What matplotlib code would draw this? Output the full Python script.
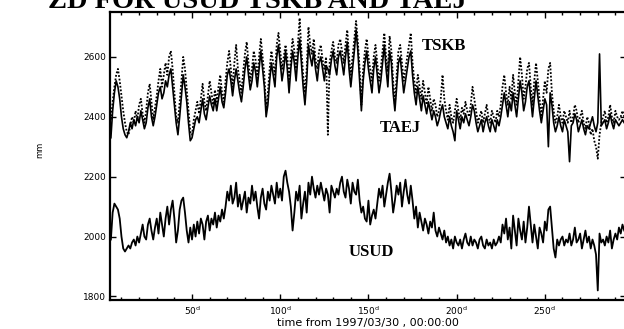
import numpy as np
import matplotlib
matplotlib.use("Agg")
import matplotlib.pyplot as plt
from matplotlib.ticker import MultipleLocator, FixedLocator

# day numbers (daily samples)
days = list(range(4, 296))

tskb = [
    2390, 2450, 2500, 2540, 2560, 2520, 2470, 2420, 2380, 2350,
    2340, 2370, 2400, 2380, 2420, 2390, 2440, 2460, 2410, 2380,
    2420, 2480, 2510, 2450, 2390, 2430, 2470, 2520, 2560, 2500,
    2540, 2580, 2540, 2600, 2620, 2560, 2480, 2400, 2380, 2450,
    2520, 2600, 2560, 2490, 2420, 2350, 2340, 2390, 2420, 2450,
    2410, 2460, 2510, 2450, 2420, 2470, 2520, 2480, 2440, 2490,
    2450, 2500, 2540, 2480, 2450, 2520, 2580, 2620, 2560, 2500,
    2580, 2640, 2560, 2520, 2480, 2550, 2610, 2650, 2580, 2520,
    2560, 2620, 2590, 2530, 2600, 2660, 2600, 2540, 2420, 2480,
    2560, 2620, 2580, 2540, 2640, 2680, 2620, 2560, 2600, 2640,
    2600, 2520, 2600, 2660, 2620, 2560, 2640, 2730, 2620, 2540,
    2480, 2560, 2700, 2640, 2610, 2660, 2590, 2560, 2620, 2640,
    2590, 2560, 2600, 2340, 2580, 2620, 2650, 2600, 2580, 2640,
    2660, 2620, 2580, 2640, 2690, 2600, 2540, 2600, 2660, 2720,
    2650, 2560, 2440, 2560, 2620, 2660, 2600, 2560, 2520, 2600,
    2640, 2580, 2520, 2560, 2620, 2680, 2600, 2550, 2670, 2620,
    2520, 2440, 2540, 2620, 2640, 2580, 2520, 2560, 2600, 2640,
    2680, 2580, 2520, 2480, 2540, 2500, 2460, 2520, 2480, 2440,
    2500, 2460, 2420, 2460, 2440, 2400, 2420, 2460, 2540, 2460,
    2420, 2390, 2440, 2400, 2380, 2420, 2460, 2420, 2390, 2430,
    2410, 2450, 2420, 2400, 2440, 2500, 2460, 2420, 2380, 2400,
    2420, 2380, 2410, 2440, 2400, 2380, 2420, 2400, 2380, 2420,
    2400, 2440, 2500, 2540, 2480, 2440, 2500, 2460, 2540, 2480,
    2440, 2520, 2600, 2540, 2460, 2500, 2560, 2580, 2500, 2440,
    2520, 2580, 2520, 2460, 2400, 2460, 2520, 2480, 2560, 2580,
    2480, 2420, 2380, 2400, 2440, 2400, 2380, 2420, 2400, 2380,
    2420, 2380, 2400, 2440, 2420, 2380, 2400, 2420, 2380, 2360,
    2400, 2380, 2340, 2360, 2320, 2300, 2260, 2340, 2380, 2400,
    2420, 2380, 2400, 2440, 2400, 2380, 2420, 2400, 2390, 2400,
    2420, 2400,
]

taej = [
    2330, 2420, 2480, 2520, 2500, 2460, 2400, 2360, 2340, 2330,
    2350, 2380, 2360, 2390, 2370, 2400, 2380, 2420, 2390, 2360,
    2380, 2430, 2460, 2400, 2370, 2400, 2440, 2480, 2500, 2460,
    2480, 2520, 2500, 2540, 2560, 2500, 2440, 2380, 2340, 2400,
    2470, 2540, 2500, 2450, 2380, 2320, 2330, 2360, 2390, 2400,
    2380, 2420, 2460, 2410, 2390, 2430, 2470, 2440, 2420, 2460,
    2420, 2460, 2500, 2450, 2430, 2480, 2540, 2560, 2520, 2470,
    2520, 2560, 2520, 2480, 2450, 2500, 2560, 2600, 2540, 2490,
    2520, 2580, 2550, 2500, 2560, 2620, 2560, 2500, 2400, 2440,
    2520, 2580, 2540, 2500, 2600, 2640, 2580, 2520, 2560, 2620,
    2560, 2480, 2560, 2620, 2580, 2520, 2600, 2660, 2580, 2500,
    2440, 2520, 2640, 2600, 2570, 2620, 2560, 2520, 2580, 2600,
    2560, 2520, 2570, 2560, 2540, 2590, 2620, 2570, 2540, 2600,
    2620, 2580, 2540, 2600, 2650, 2560, 2500, 2560, 2620, 2690,
    2620, 2520, 2420, 2520, 2580, 2620, 2560, 2520, 2480, 2560,
    2600, 2540, 2480, 2520, 2580, 2640, 2560, 2500, 2620, 2580,
    2480, 2420, 2500, 2580, 2600, 2540, 2480, 2520, 2560, 2600,
    2620, 2540, 2480, 2440, 2500, 2460, 2420, 2470, 2440, 2410,
    2450, 2420, 2390, 2420, 2400, 2370, 2390, 2420, 2440, 2400,
    2380, 2360, 2400, 2370, 2350, 2320, 2420, 2390, 2360, 2400,
    2380, 2410, 2390, 2370, 2400, 2440, 2420, 2380, 2350, 2370,
    2390, 2350, 2380, 2400, 2370, 2350, 2390, 2370, 2350, 2390,
    2370, 2400, 2440, 2480, 2440, 2400, 2450, 2420, 2480, 2440,
    2400, 2460, 2520, 2480, 2420, 2450, 2500, 2520, 2460, 2400,
    2460, 2520, 2470, 2420, 2380, 2420, 2460, 2440, 2300, 2480,
    2440, 2380, 2350, 2370, 2400, 2370, 2350, 2390, 2370, 2350,
    2250, 2370, 2380, 2410, 2390, 2350, 2370, 2390, 2360, 2340,
    2370, 2360, 2380, 2400, 2370, 2350, 2380, 2610, 2370, 2380,
    2390, 2360, 2380, 2410, 2380, 2360, 2390, 2380, 2370, 2380,
    2390, 2380,
]

usud = [
    1990, 2080, 2110, 2100, 2090, 2060, 2000, 1960, 1950, 1960,
    1970, 1960, 1980, 1990, 1970, 2000, 1980, 2010, 2040, 2000,
    1990, 2040, 2060, 2020, 1990, 2030, 2060, 2010, 2080, 2040,
    2000, 2060, 2100, 2040, 2090, 2120, 2060, 1980, 2020, 2090,
    2120, 2130, 2080, 2020, 1980, 2030, 1990, 2040, 2000, 2050,
    2010, 2060, 2040, 1990, 2050, 2070, 2020, 2060, 2040, 2080,
    2030, 2070, 2050, 2090, 2060, 2100, 2150, 2120, 2170, 2110,
    2130, 2180, 2100, 2140, 2090, 2120, 2150, 2080, 2130, 2110,
    2170, 2120, 2150, 2100, 2060, 2130, 2160, 2110, 2090, 2150,
    2120, 2170, 2140, 2110, 2180, 2130, 2160, 2120, 2200, 2220,
    2180, 2150, 2100, 2020, 2080, 2150, 2120, 2170, 2060, 2110,
    2150, 2080, 2180, 2140, 2200, 2160, 2130, 2170, 2140, 2180,
    2150, 2120, 2160, 2140, 2080, 2170, 2150, 2130, 2160, 2140,
    2180, 2200, 2150, 2130, 2190, 2160, 2110, 2180, 2150, 2140,
    2190, 2120, 2080, 2100, 2060, 2050, 2120, 2040, 2070, 2090,
    2060, 2110, 2160, 2130, 2170, 2100, 2140, 2180, 2210, 2150,
    2080, 2120, 2170, 2140, 2180, 2100, 2150, 2190, 2140, 2110,
    2170, 2120, 2060, 2100, 2030, 2080, 2050, 2020, 2060, 2040,
    2010, 2050, 2030, 2080, 2020, 2000, 2030, 2010, 1990, 2020,
    1980, 2000, 1970, 1990, 1960, 2000, 1980, 1970, 1990, 1960,
    1990, 2010, 1980, 1970, 2000, 1970, 1990, 1980, 1960, 1990,
    2000, 1970, 1960, 1990, 1970, 1980, 1960, 1990, 1970, 1980,
    2000, 1980, 2040, 2010, 2060, 1990, 2030, 1960, 2070, 2020,
    1970, 2060, 2020, 1990, 2050, 1980, 2030, 2100, 2040, 1980,
    2040, 2000, 1960, 2030, 2010, 1980, 2050, 2020, 2090, 2100,
    2030, 1960, 1930, 1990, 1970, 1990, 2000, 1970, 1990, 1980,
    2010, 1970, 1990, 2030, 1980, 1990, 2010, 1960, 1990, 2020,
    1980, 2000, 1960, 1990, 1970, 1940, 1820, 2010, 1980, 1990,
    1970, 2000, 1980, 2020, 1960, 1990, 2010, 1990, 2030, 2010,
    2040, 2020,
]

x_ticks = [50, 100, 150, 200, 250]
x_tick_labels = [r"%d$^{\mathrm{d}}$" % t for t in x_ticks]
y_ticks = [1800, 2000, 2200, 2400, 2600]
title = "ZD FOR USUD TSKB AND TAEJ"
x_label = "time from 1997/03/30 , 00:00:00"
y_label = "mm"

fig = plt.figure(figsize=(6.24, 3.29), dpi=100)
ax = fig.add_axes([110 / 624, 1 - 300 / 329, 516 / 624, 288 / 329])

ax.plot(days, tskb, color="black", lw=1.3, ls=(0, (1, 1.0)))
ax.plot(days, taej, color="black", lw=1.2)
ax.plot(days, usud, color="black", lw=1.3)

ax.set_xlim(3.5, 296)
ax.set_ylim(1788, 2750)

ax.xaxis.set_major_locator(FixedLocator(x_ticks))
ax.set_xticklabels(x_tick_labels, fontsize=6.5)
ax.xaxis.set_minor_locator(MultipleLocator(10))
ax.yaxis.set_major_locator(FixedLocator(y_ticks))
ax.set_yticklabels([str(v) for v in y_ticks], fontsize=6.5)
ax.tick_params(which="both", direction="in", top=True, right=True,
               width=1.0, color="black")
ax.tick_params(which="major", length=4, pad=3)
ax.tick_params(which="minor", length=2)
for s in ax.spines.values():
    s.set_linewidth(1.6)

ax.set_xlabel(x_label, fontsize=8, labelpad=1)
fig.text(40 / 624, 1 - 150 / 329, y_label, rotation=90, fontsize=6,
         ha="center", va="center")

serif = ["Liberation Serif", "DejaVu Serif"]
ax.text(180.5, 2638, "TSKB", family=serif, fontsize=12, weight="bold",
        ha="left", va="center")
ax.text(156.5, 2361, "TAEJ", family=serif, fontsize=12, weight="bold",
        ha="left", va="center")
ax.text(138.5, 1950, "USUD", family=serif, fontsize=12, weight="bold",
        ha="left", va="center")

fig.text(48 / 624, 1 - 8 / 329, title, family=serif, fontsize=20.5,
         weight="bold", ha="left", va="baseline")

fig.savefig("out.png", dpi=100)
